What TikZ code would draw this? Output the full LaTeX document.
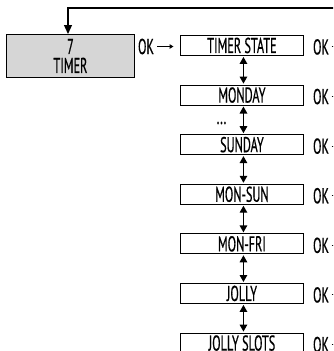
\documentclass[tikz,border=0pt]{standalone}
\usepackage{fontspec}
\setmainfont[FakeStretch=0.57, FakeBold=0.5]{PT Sans}
\usetikzlibrary{arrows.meta}
\begin{document}
\begin{tikzpicture}[x=1pt,y=-1pt,
  lbl/.style={font=\fontsize{21.5}{19}\selectfont, inner sep=0pt},
  menubox/.style={lbl, draw, line width=0.9pt, minimum width=123pt, minimum height=20pt, anchor=north west},
  graybox/.style={lbl, draw, line width=0.9pt, fill=black!16, minimum width=128pt, minimum height=43pt, anchor=north west, align=center},
  dbl/.style={line width=1.4pt, {Triangle[length=7pt,width=7.5pt]}-{Triangle[length=7pt,width=7.5pt]}, shorten >=1pt, shorten <=1pt},
  okarrow/.style={line width=1pt, -{Triangle[length=4pt,width=4.5pt]}},
  loopline/.style={line width=1.2pt},
]
\useasboundingbox (0,0) rectangle (333,351);
\clip (0,0) rectangle (333,351);

\node[graybox] (timer) at (6,34) {7\\TIMER};

\node[menubox] (b1) at (180,35) {TIMER STATE};
\node[menubox] (b2) at (180,84.6) {MONDAY};
\node[menubox] (b3) at (180,134.2) {SUNDAY};
\node[menubox] (b4) at (180,183.8) {MON-SUN};
\node[menubox] (b5) at (180,233.4) {MON-FRI};
\node[menubox] (b6) at (180,283) {JOLLY};
\node[menubox] (b7) at (180,332.6) {JOLLY SLOTS};

\node[lbl, anchor=base, text height=2pt, text depth=0pt] (dots) at (221.5,124) {...};

% OK from timer to first box
\node[lbl] (ok0) at (146,46.5) {OK};
\draw[okarrow] (ok0.east) ++(3pt,0) coordinate (ok0s) -- (ok0s -| b1.west) [shorten >=6.5pt];

% vertical double arrows
\foreach \a/\b in {b1/b2,b2/b3,b3/b4,b4/b5,b5/b6,b6/b7}{
  \draw[dbl] ([xshift=1.5pt]\a.south) -- ([xshift=1.5pt]\b.north);
}

% right side OK lines (cut by the frame)
\coordinate (topright) at (340,8);
\foreach \b in {b1,b2,b3,b4,b5,b6,b7}{
  \node[lbl, anchor=west] (ok\b) at ([xshift=9pt,yshift=-1.5pt]\b.east) {OK};
  \draw[line width=1pt] ([xshift=2.5pt]ok\b.east) -- (ok\b.east -| topright);
}

% loop back to the timer box
\coordinate (corner) at (68,8);
\draw[loopline, -{Triangle[length=9pt,width=8pt]}] (topright) -- (corner) -- (corner |- timer.north);
\end{tikzpicture}
\end{document}
